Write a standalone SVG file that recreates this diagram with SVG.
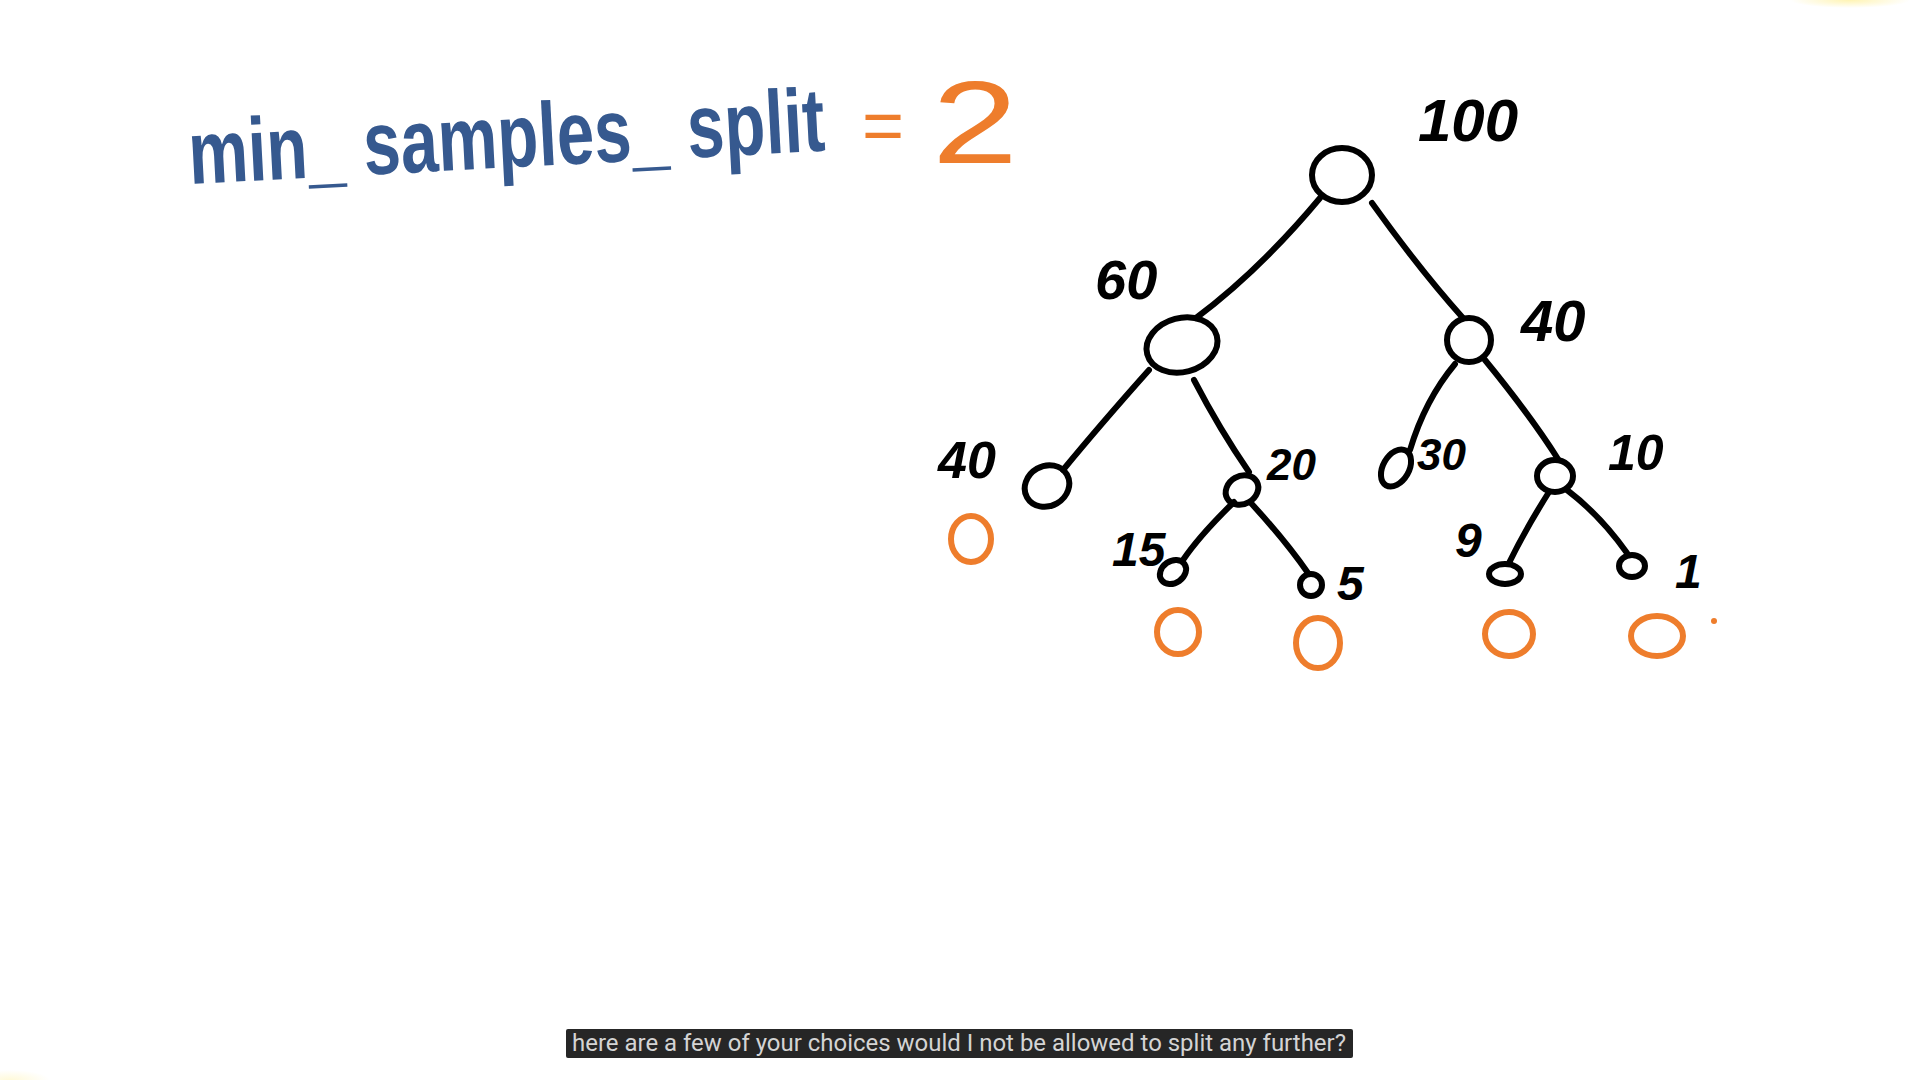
<svg xmlns="http://www.w3.org/2000/svg" width="1920" height="1080" viewBox="0 0 1920 1080">
<defs>
<style>
.edge{fill:none;stroke:#000;stroke-width:6;stroke-linecap:round;stroke-linejoin:round}
.node{fill:none;stroke:#000;stroke-width:6}
.leaf{fill:none;stroke:#ee7d2c;stroke-width:6}
.lbl{font-family:"Liberation Sans",Arial,sans-serif;font-style:italic;font-weight:bold;fill:#000}
.title{font-family:"Liberation Sans Narrow","Liberation Sans",Arial,sans-serif;font-weight:bold;fill:#36598f}
.orange{font-family:"Liberation Sans",Arial,sans-serif;fill:#ee7d2c}
.cap{font-family:Roboto,"Liberation Sans",sans-serif;font-size:24px;fill:#d4d4d4}
</style>
<radialGradient id="glow" cx="0.5" cy="0.5" r="0.5">
<stop offset="0" stop-color="#fff1a0" stop-opacity="0.8"/>
<stop offset="1" stop-color="#fff1a0" stop-opacity="0"/>
</radialGradient>
</defs>
<rect width="1920" height="1080" fill="#ffffff"/>
<ellipse cx="1850" cy="0" rx="60" ry="8" fill="url(#glow)"/>
<ellipse cx="10" cy="1080" rx="40" ry="10" fill="url(#glow)" opacity="0.5"/>

<g id="title">
<text class="title" x="190" y="184" font-size="90" textLength="637" lengthAdjust="spacingAndGlyphs" transform="rotate(-3 190 184)">min_ samples_ split</text>
<text class="orange" x="862" y="150" font-size="72">=</text>
<text class="orange" x="932" y="163" font-size="116" textLength="86" lengthAdjust="spacingAndGlyphs">2</text>
</g>

<g id="connectors">
<path class="edge" d="M1320,198 Q1260,270 1196,318"/>
<path class="edge" d="M1372,203 Q1420,270 1463,318"/>
<path class="edge" d="M1149,370 Q1100,425 1063,470"/>
<path class="edge" d="M1194,380 Q1220,430 1249,472"/>
<path class="edge" d="M1455,364 Q1425,400 1410,450"/>
<path class="edge" d="M1485,360 Q1530,415 1558,459"/>
<path class="edge" d="M1234,502 Q1200,535 1183,560"/>
<path class="edge" d="M1250,502 Q1285,540 1308,573"/>
<path class="edge" d="M1549,492 Q1525,530 1509,563"/>
<path class="edge" d="M1567,490 Q1600,515 1627,553"/>
</g>

<g id="n100"><ellipse class="node" cx="1342" cy="175" rx="30" ry="27"/><text class="lbl" x="1418" y="141" font-size="60">100</text></g>
<g id="n60"><ellipse class="node" cx="1182" cy="345" rx="36" ry="27" transform="rotate(-15 1182 345)"/><text class="lbl" x="1095" y="299" font-size="56">60</text></g>
<g id="n40r"><ellipse class="node" cx="1469" cy="340" rx="22" ry="22"/><text class="lbl" x="1521" y="341" font-size="58">40</text></g>
<g id="n40l"><ellipse class="node" cx="1047" cy="486" rx="23" ry="20" transform="rotate(-30 1047 486)"/><text class="lbl" x="938" y="478" font-size="52">40</text></g>
<g id="n20"><ellipse class="node" cx="1242" cy="490" rx="17" ry="14" transform="rotate(-30 1242 490)"/><text class="lbl" x="1267" y="480" font-size="44">20</text></g>
<g id="n30"><ellipse class="node" cx="1396" cy="468" rx="13" ry="20" transform="rotate(30 1396 468)"/><text class="lbl" x="1417" y="470" font-size="44">30</text></g>
<g id="n10"><ellipse class="node" cx="1555" cy="476" rx="18" ry="16"/><text class="lbl" x="1608" y="470" font-size="50">10</text></g>
<g id="n15"><ellipse class="node" cx="1173" cy="572" rx="14" ry="11" transform="rotate(-35 1173 572)"/><text class="lbl" x="1112" y="566" font-size="48">15</text></g>
<g id="n5"><ellipse class="node" cx="1311" cy="585" rx="11" ry="11"/><text class="lbl" x="1337" y="600" font-size="48">5</text></g>
<g id="n9"><ellipse class="node" cx="1505" cy="574" rx="16" ry="10"/><text class="lbl" x="1455" y="557" font-size="48">9</text></g>
<g id="n1"><ellipse class="node" cx="1632" cy="566" rx="13" ry="11"/><text class="lbl" x="1675" y="588" font-size="48">1</text></g>

<g id="marks">
<ellipse class="leaf" cx="971" cy="539" rx="20" ry="23"/>
<ellipse class="leaf" cx="1178" cy="632" rx="21" ry="22"/>
<ellipse class="leaf" cx="1318" cy="643" rx="22" ry="25"/>
<ellipse class="leaf" cx="1509" cy="634" rx="24" ry="22"/>
<ellipse class="leaf" cx="1657" cy="636" rx="26" ry="20"/>
<circle cx="1714" cy="621" r="3" fill="#ee7d2c"/>
</g>

<g id="caption">
<rect x="566" y="1029" width="787" height="29" rx="2" fill="#262626"/>
<text class="cap" x="572" y="1051" textLength="774" lengthAdjust="spacingAndGlyphs">here are a few of your choices would I not be allowed to split any further?</text>
</g>
</svg>
